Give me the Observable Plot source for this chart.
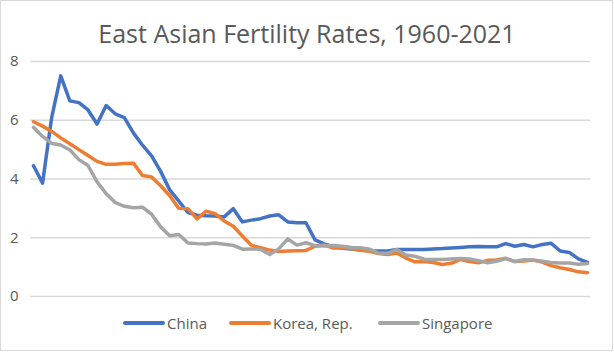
<!DOCTYPE html>
<html>
<head>
<meta charset="utf-8">
<script src="https://cdn.jsdelivr.net/npm/d3@7"></script>
<script src="https://cdn.jsdelivr.net/npm/@observablehq/plot@0.6"></script>
<style>
  html, body { margin: 0; padding: 0; background: #fff; }
  #wrap { position: relative; width: 614px; height: 352px; overflow: hidden; font-family: "Open Sans", "Noto Sans", sans-serif; }
  #frame { position: absolute; left: 0; top: 0; width: 611px; height: 349px; border: 1px solid #d9d9d9; box-sizing: content-box; pointer-events: none; }
  #title { position: absolute; left: 0; width: 614px; top: 16px; text-align: center; font-size: 25px; color: #595959; }
  #legend { position: absolute; top: 313px; left: 0; width: 614px; height: 20px; font-size: 15px; color: #595959; }
  .item { position: absolute; display: flex; align-items: center; }
  .swatch { width: 42px; height: 4px; border-radius: 2px; margin-right: 2px; }
  #chart { position: absolute; left: 0; top: 0; }
</style>
</head>
<body>
<div id="wrap">
  <div id="chart"></div>
  <div id="title">East Asian Fertility Rates, 1960-2021</div>
  <div id="legend"></div>
  <div id="frame"></div>
</div>
<script>
const years = d3.range(1960, 2022);
const seriesNames = ["China", "Korea, Rep.", "Singapore"];
const seriesColors = ["#4472C4", "#ED7D31", "#A5A5A5"];
const yTicks = [0, 2, 4, 6, 8];

const china = [4.45, 3.86, 6.09, 7.51, 6.66, 6.60, 6.35, 5.87, 6.50, 6.22,
  6.09, 5.57, 5.15, 4.79, 4.26, 3.63, 3.25, 2.86, 2.77, 2.75,
  2.74, 2.71, 2.99, 2.54, 2.60, 2.65, 2.74, 2.78, 2.54, 2.51,
  2.51, 1.93, 1.79, 1.70, 1.64, 1.62, 1.58, 1.56, 1.55, 1.55,
  1.60, 1.60, 1.60, 1.60, 1.62, 1.63, 1.65, 1.67, 1.69, 1.70,
  1.69, 1.69, 1.80, 1.71, 1.77, 1.69, 1.77, 1.81, 1.55, 1.50,
  1.28, 1.16];
const korea = [5.95, 5.80, 5.62, 5.40, 5.20, 5.00, 4.80, 4.60, 4.50, 4.50,
  4.53, 4.54, 4.12, 4.07, 3.77, 3.43, 3.00, 2.99, 2.64, 2.90,
  2.82, 2.57, 2.39, 2.06, 1.74, 1.66, 1.58, 1.53, 1.55, 1.56,
  1.57, 1.71, 1.76, 1.65, 1.66, 1.63, 1.57, 1.54, 1.46, 1.43,
  1.48, 1.31, 1.18, 1.19, 1.16, 1.09, 1.13, 1.26, 1.19, 1.15,
  1.23, 1.24, 1.30, 1.19, 1.21, 1.24, 1.17, 1.05, 0.98, 0.92,
  0.84, 0.81];
const singapore = [5.76, 5.45, 5.21, 5.16, 4.99, 4.66, 4.46, 3.90, 3.50, 3.20,
  3.07, 3.02, 3.04, 2.80, 2.37, 2.07, 2.11, 1.82, 1.80, 1.79,
  1.82, 1.78, 1.74, 1.61, 1.62, 1.61, 1.43, 1.62, 1.96, 1.75,
  1.83, 1.73, 1.72, 1.74, 1.71, 1.67, 1.66, 1.61, 1.48, 1.47,
  1.60, 1.41, 1.37, 1.27, 1.26, 1.26, 1.28, 1.29, 1.28, 1.22,
  1.15, 1.20, 1.29, 1.19, 1.25, 1.24, 1.20, 1.16, 1.14, 1.14,
  1.10, 1.12];

const seriesValues = [china, korea, singapore];
const rows = [];
seriesNames.forEach((name, i) => {
  years.forEach((yr, j) => rows.push({ series: name, year: yr, value: seriesValues[i][j] }));
});

const chart = Plot.plot({
  width: 614,
  height: 352,
  marginLeft: 30,
  marginRight: 24,
  marginTop: 61,
  marginBottom: 56,
  style: { fontFamily: "'Open Sans', 'Noto Sans', sans-serif", fontSize: "15px", color: "#595959", background: "transparent" },
  x: { domain: [1959.67, 2021.33], axis: null },
  y: { domain: [0, 8], ticks: yTicks, tickSize: 0, tickPadding: 12, label: null, tickFormat: d => d },
  color: { domain: seriesNames, range: seriesColors },
  marks: [
    Plot.gridY(yTicks, { stroke: "#d9d9d9", strokeOpacity: 1, strokeWidth: 1.3 }),
    Plot.line(rows, { x: "year", y: "value", z: "series", stroke: "series", strokeWidth: 3.5, strokeLinejoin: "round", strokeLinecap: "round" })
  ]
});
document.getElementById("chart").appendChild(chart);

const legendPos = [123, 229, 378];
const legend = document.getElementById("legend");
seriesNames.forEach((name, i) => {
  const it = document.createElement("div");
  it.className = "item";
  it.style.left = legendPos[i] + "px";
  const sw = document.createElement("div");
  sw.className = "swatch";
  sw.style.background = seriesColors[i];
  const tx = document.createElement("span");
  tx.textContent = name;
  it.appendChild(sw);
  it.appendChild(tx);
  legend.appendChild(it);
});
</script>
</body>
</html>
